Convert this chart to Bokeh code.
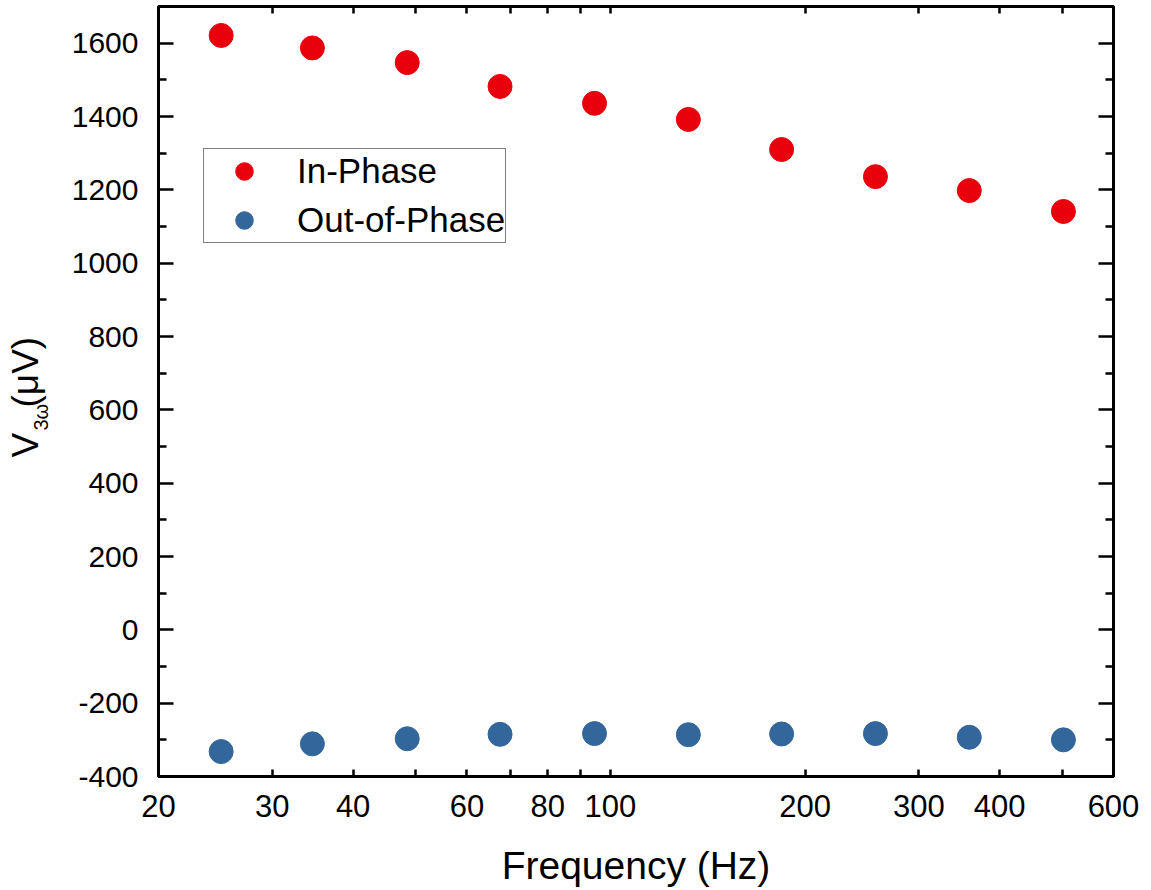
import math
from bokeh.plotting import figure
from bokeh.layouts import row
from bokeh.models import (FixedTicker, PrintfTickFormatter, LinearAxis, LogAxis, Range1d)
from bokeh.core.properties import value
from bokeh.embed import file_html
from bokeh.resources import INLINE

# ---- data ----
freq = [25, 34.6, 48.5, 67.5, 94.5, 132, 184, 257, 359, 502]
in_phase = [1621, 1587, 1547, 1482, 1436, 1392, 1310, 1236, 1198, 1141]
out_phase = [-332, -311, -297, -285, -283, -286, -284, -283, -293, -300]

x_tick_labels = [20, 30, 40, 60, 80, 100, 200, 300, 400, 600]
x_minor = [50, 70, 90, 500]
y_ticks = list(range(-400, 1601, 200))
y_minor = list(range(-300, 1701, 200))

RED = "#e8000d"
BLUE = "#33669a"
FONT = "Liberation Sans"
TITLE_W = 60
H = 890
FRAME_TOP, FRAME_BOTTOM = 6, 776

# ---- narrow strip holding the y-axis title V_{3ω}(μV) ----
# (its frame is aligned with the main frame by the row layout; data y == H - pixel y)
t = figure(width=TITLE_W, height=H, x_range=Range1d(0, TITLE_W),
           y_range=Range1d(H - FRAME_BOTTOM, H - FRAME_TOP),
           output_backend="svg", toolbar_location=None, min_border=0)
t.axis.visible = False
t.grid.visible = False
t.outline_line_color = None
t.background_fill_color = "white"
t.border_fill_color = "white"
ang = math.pi / 2
t.text(x=[25], y=[H - 457], text=["V"], angle=ang, text_font=value(FONT),
       text_font_size="37px", text_color="black", text_baseline="middle", text_align="left")
t.text(x=[40], y=[H - 430], text=["3ω"], angle=ang, text_font=value(FONT),
       text_font_size="20px", text_color="black", text_baseline="middle", text_align="left")
t.text(x=[25], y=[H - 407], text=["(μV)"], angle=ang, text_font=value(FONT),
       text_font_size="37px", text_color="black", text_baseline="middle", text_align="left")

# ---- main plot ----
p = figure(width=1151 - TITLE_W, height=H, x_axis_type="log", x_range=(20, 600), y_range=(-400, 1700),
           output_backend="svg", toolbar_location=None,
           min_border_left=158 - TITLE_W, min_border_right=38, min_border_top=FRAME_TOP,
           min_border_bottom=H - FRAME_BOTTOM)
p.background_fill_color = "white"
p.border_fill_color = "white"
p.xgrid.visible = False
p.ygrid.visible = False
p.outline_line_color = "black"
p.outline_line_width = 3
p.outline_line_alpha = 1

xt = FixedTicker(ticks=x_tick_labels, minor_ticks=x_minor)
yt = FixedTicker(ticks=y_ticks, minor_ticks=y_minor)

xa = p.xaxis[0]
xa.ticker = xt
xa.formatter = PrintfTickFormatter(format="%d")
xa.axis_label = "Frequency (Hz)"
xa.axis_label_text_font = FONT
xa.axis_label_text_font_size = "39px"
xa.axis_label_text_font_style = "normal"
xa.axis_label_text_color = "black"
xa.axis_label_standoff = 24
xa.major_label_text_font = FONT
xa.major_label_text_font_size = "31px"
xa.major_label_text_color = "black"
xa.major_label_standoff = 18
xa.major_tick_in = 7
xa.major_tick_out = 0
xa.minor_tick_in = 7
xa.minor_tick_out = 0
xa.major_tick_line_width = 2.5
xa.minor_tick_line_width = 2.5
xa.axis_line_color = None

ya = p.yaxis[0]
ya.ticker = yt
ya.formatter = PrintfTickFormatter(format="%d")
ya.major_label_text_font = FONT
ya.major_label_text_font_size = "30px"
ya.major_label_text_color = "black"
ya.major_label_standoff = 20
ya.major_tick_in = 15
ya.major_tick_out = 0
ya.minor_tick_in = 8
ya.minor_tick_out = 0
ya.major_tick_line_width = 2.5
ya.minor_tick_line_width = 2.5
ya.axis_line_color = None

# mirror axes (ticks only, labels not drawn)
top = LogAxis(ticker=xt, major_label_text_font_size="1px", major_label_text_color=None,
              major_label_standoff=0,
              major_tick_in=7, major_tick_out=0, minor_tick_in=7, minor_tick_out=0,
              major_tick_line_width=2.5, minor_tick_line_width=2.5, axis_line_color=None)
right = LinearAxis(ticker=yt, major_label_text_font_size="1px", major_label_text_color=None,
                   major_label_standoff=0,
                   major_tick_in=15, major_tick_out=0, minor_tick_in=8, minor_tick_out=0,
                   major_tick_line_width=2.5, minor_tick_line_width=2.5, axis_line_color=None)
p.add_layout(top, "above")
p.add_layout(right, "right")

p.scatter(freq, in_phase, size=24, color=RED, legend_label="In-Phase")
p.scatter(freq, out_phase, size=24, color=BLUE, legend_label="Out-of-Phase")

lg = p.legend[0]
lg.location = (45, 533)
lg.label_text_font = FONT
lg.label_text_font_size = "35px"
lg.label_text_color = "black"
lg.glyph_width = 80
lg.glyph_height = 44
lg.label_standoff = 13
lg.spacing = 5
lg.padding = 0
lg.margin = 0
lg.border_line_color = "black"
lg.border_line_width = 1
lg.background_fill_color = "white"
lg.background_fill_alpha = 1

layout = row(t, p, spacing=0)
open("out.html", "w").write(file_html(layout, INLINE))
